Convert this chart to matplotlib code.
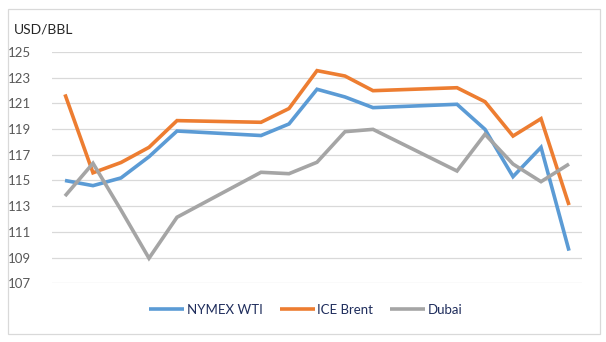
import matplotlib
matplotlib.use("Agg")
import matplotlib.pyplot as plt
from matplotlib.patches import Rectangle

# Trading days (weekends skipped on a date axis)
days = [0, 1, 2, 3, 4, 7, 8, 9, 10, 11, 14, 15, 16, 17, 18]
wti = [115.0, 114.6, 115.2, 116.85, 118.85, 118.5, 119.4, 122.1, 121.5, 120.67,
       120.93, 118.98, 115.3, 117.58, 109.54]
brent = [121.7, 115.6, 116.4, 117.58, 119.66, 119.53, 120.6, 123.55, 123.13, 121.99,
         122.22, 121.13, 118.46, 119.81, 113.09]
dubai = [113.79, 116.34, 112.7, 108.95, 112.14, 115.64, 115.53, 116.42, 118.8, 118.98,
         115.74, 118.6, 116.28, 114.91, 116.28]
series_names = ["NYMEX WTI", "ICE Brent", "Dubai"]
yticks = [107, 109, 111, 113, 115, 117, 119, 121, 123, 125]
unit_label = "USD/BBL"

plt.rcParams['font.family'] = ['Lato', 'DejaVu Sans']

W, H = 606, 342
fig = plt.figure(figsize=(W / 100, H / 100), dpi=100)
fig.patch.set_facecolor("white")

# outer chart border
fig.patches.append(Rectangle((8 / W, 1 - 334 / H), 592 / W, 325 / H,
                             transform=fig.transFigure, fill=False,
                             edgecolor="#D9D9D9", linewidth=0.9))

ax = fig.add_axes([52 / W, 1 - 283.3 / H, 530 / W, 231.3 / H])
colors = ["#5B9BD5", "#ED7D31", "#A5A5A5"]
for vals, name, c in zip([wti, brent, dubai], series_names, colors):
    ax.plot(days, vals, color=c, linewidth=2.6, label=name,
            solid_joinstyle="miter", solid_capstyle="butt")

ax.set_xlim(-0.464, 18.464)
ax.set_ylim(107, 125)
ax.set_yticks(yticks)
ax.set_yticklabels([str(v) for v in yticks], fontsize=9.5, color="#595959")
ax.set_xticks([])
ax.tick_params(axis="y", length=0, pad=15)
ax.grid(axis="y", color="#D9D9D9", linewidth=0.9)
ax.set_axisbelow(True)
for s in ax.spines.values():
    s.set_visible(False)

fig.text(14 / W, 1 - 30 / H, unit_label, fontsize=10, color="#262626",
         va="center", ha="left")

leg = fig.legend(loc="center", bbox_to_anchor=(306 / W, 1 - 309.5 / H), ncol=3,
                 frameon=False, fontsize=9.5, handlelength=2.65, handletextpad=0.2,
                 columnspacing=1.3)
for t in leg.get_texts():
    t.set_color("#1F2D5C")

fig.savefig("out.png", dpi=100, facecolor="white")
